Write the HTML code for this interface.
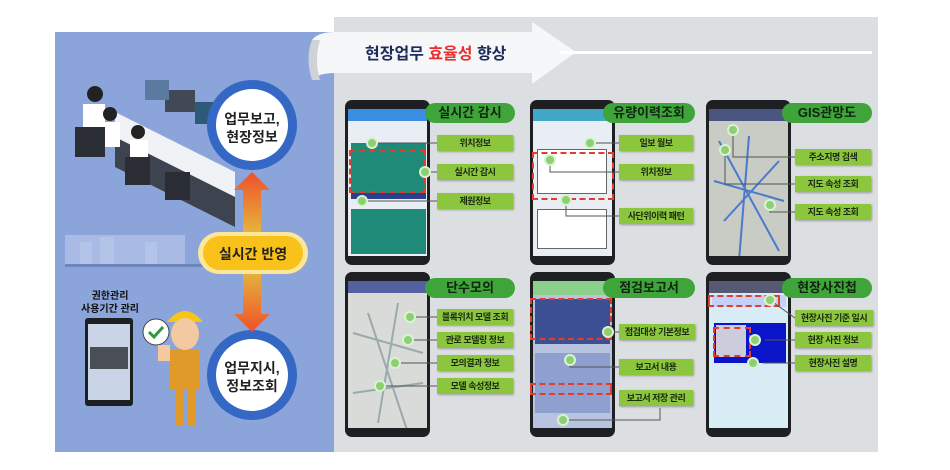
<!DOCTYPE html>
<html><head><meta charset="utf-8">
<style>
*{margin:0;padding:0;box-sizing:border-box}
body{width:950px;height:470px;background:#fff;position:relative;overflow:hidden;font-family:"Liberation Sans","Noto Sans CJK KR",sans-serif}
.a{position:absolute}
.phone{position:absolute;background:#1e1f22;border-radius:7px;padding:9px 3px}
.scr{width:100%;height:100%;background:#e8eef4;position:relative;overflow:hidden}
.bar{height:12px;background:#3a8de0}
.title{position:absolute;background:#3fa53a;border-radius:11px;font-weight:bold;font-size:13px;text-align:center;height:20px;line-height:20px;color:#10240f;white-space:nowrap}
.lab{position:absolute;background:#8cc63e;color:#1b2a10;font-size:9px;font-weight:bold;text-align:center;height:16px;line-height:16px;box-shadow:1px 1px 2px rgba(0,0,0,.3);white-space:nowrap;letter-spacing:-0.5px;overflow:hidden}
.dot{position:absolute;width:12px;height:12px;border-radius:50%;background:#8ccf74;border:2px solid #d9f2cf}
.red{position:absolute;border:2px dashed #e23c2c}
</style></head><body>
<div class="a" style="left:55px;top:32px;width:280px;height:420px;background:#8ba4d9"></div>
<div class="a" style="left:334px;top:17px;width:544px;height:435px;background:#dcdfe1"></div>
<svg class="a" style="left:0;top:0" width="950" height="100">
<path d="M312 40 Q318 32 335 32 L532 32 L532 22 L576 52 L532 84 L532 73 L335 73 Q318 73 312 80 Z" fill="#f6f7f8"/>
<path d="M312 40 Q305 58 312 80 L320 80 Q314 60 320 40 Z" fill="#cfd3d8"/>
<rect x="560" y="51" width="312" height="3" fill="#fff"/>
</svg>
<div class="a" style="left:365px;top:40px;font-size:16px;font-weight:bold;color:#1d2a5a">현장업무 <span style="color:#e8312f">효율성</span> 향상</div>

<svg class="a" style="left:55px;top:32px" width="280" height="420">
<rect x="10" y="203" width="120" height="30" fill="#a9bbe4"/>
<rect x="25" y="210" width="12" height="25" fill="#b4c4e8"/><rect x="45" y="205" width="14" height="30" fill="#b4c4e8"/><rect x="90" y="210" width="12" height="25" fill="#b4c4e8"/>
<rect x="10" y="232" width="140" height="3" fill="#6f86bd"/>
<polygon points="60,80 180,140 180,165 60,105" fill="#f0f2f6"/>
<polygon points="60,105 180,165 180,195 60,135" fill="#3d4450"/>
<rect x="110" y="58" width="30" height="22" fill="#404955"/><rect x="140" y="70" width="28" height="22" fill="#2e5a7a"/><rect x="90" y="48" width="24" height="20" fill="#5a7aa0"/>
<circle cx="40" cy="62" r="8" fill="#222"/><rect x="28" y="72" width="22" height="28" fill="#fff"/>
<circle cx="55" cy="82" r="7" fill="#222"/><rect x="45" y="90" width="20" height="25" fill="#fff"/>
<circle cx="83" cy="100" r="7" fill="#222"/><rect x="75" y="108" width="18" height="22" fill="#fff"/>
<rect x="20" y="95" width="30" height="30" fill="#2a2d33"/><rect x="70" y="125" width="25" height="28" fill="#2a2d33"/><rect x="110" y="140" width="25" height="28" fill="#2a2d33"/>
<circle cx="197" cy="93" r="45" fill="#3567c4"/>
<circle cx="197" cy="93" r="36" fill="#fff"/>
<circle cx="197" cy="343" r="45" fill="#3567c4"/>
<circle cx="197" cy="343" r="36" fill="#fff"/>
<defs><linearGradient id="g1" x1="0" y1="1" x2="0" y2="0"><stop offset="0" stop-color="#e5b33c"/><stop offset="1" stop-color="#f0502a"/></linearGradient>
<linearGradient id="g2" x1="0" y1="0" x2="0" y2="1"><stop offset="0" stop-color="#e5b33c"/><stop offset="1" stop-color="#f0502a"/></linearGradient></defs>
<polygon points="188,200 206,200 206,158 215,158 197,140 179,158 188,158" fill="url(#g1)"/>
<polygon points="188,240 206,240 206,282 215,282 197,300 179,282 188,282" fill="url(#g2)"/>
<rect x="143" y="200" width="110" height="42" rx="21" fill="#fbe79a"/>
<rect x="148" y="204" width="100" height="34" rx="17" fill="#f8c21a"/>
<rect x="30" y="286" width="48" height="88" rx="3" fill="#1e1f22"/><rect x="33" y="292" width="42" height="76" fill="#c9d4e6"/>
<rect x="35" y="315" width="38" height="22" fill="#4a4f55"/>
<circle cx="101" cy="300" r="13" fill="#fff" stroke="#444"/><path d="M94 300 l5 5 l9 -10" stroke="#2a9a3a" stroke-width="3" fill="none"/>
<path d="M112 290 q18 -22 36 0 z" fill="#f5c518"/>
<ellipse cx="130" cy="302" rx="14" ry="16" fill="#f3c9a0"/>
<rect x="115" y="318" width="30" height="40" fill="#e09a2a"/>
<rect x="120" y="356" width="9" height="38" fill="#e09a2a"/><rect x="132" y="356" width="9" height="38" fill="#e09a2a"/>
<rect x="103" y="313" width="12" height="16" fill="#f3c9a0"/>
</svg>
<div class="a" style="left:220px;top:110px;width:64px;text-align:center;font-size:14px;font-weight:bold;line-height:18px;color:#222">업무보고,<br>현장정보</div>
<div class="a" style="left:220px;top:359px;width:64px;text-align:center;font-size:14px;font-weight:bold;line-height:18px;color:#222">업무지시,<br>정보조회</div>
<div class="a" style="left:203px;top:244px;width:100px;text-align:center;font-size:14px;font-weight:bold;color:#222">실시간 반영</div>
<div class="a" style="left:65px;top:290px;width:90px;text-align:center;font-size:10px;font-weight:bold;line-height:13px;color:#111">권한관리<br>사용기간 관리</div>

<div class="phone" style="left:345px;top:100px;width:85px;height:165px"><div class="scr"><div class="bar"></div>
<div class="a" style="left:3px;top:34px;width:75px;height:50px;background:#1f8a78"></div><div class="a" style="left:3px;top:84px;width:75px;height:6px;background:#2b3f8a"></div>
<div class="a" style="left:3px;top:100px;width:75px;height:45px;background:#1f8a78"></div></div></div>
<div class="phone" style="left:530px;top:100px;width:85px;height:165px"><div class="scr"><div class="bar" style="background:#42a8c8"></div>
<div class="a" style="left:4px;top:40px;width:70px;height:45px;border:1px solid #666;background:#fff"></div><div class="a" style="left:4px;top:100px;width:70px;height:40px;border:1px solid #666;background:#fff"></div></div></div>
<div class="phone" style="left:706px;top:100px;width:85px;height:165px"><div class="scr" style="background:#c8ccc4"><div class="bar" style="background:#4a5580"></div>
<svg width="80" height="140"><path d="M10 20 L70 130 M40 15 L30 140 M5 60 L75 80 M15 100 L70 40" stroke="#4a7acc" stroke-width="2" fill="none"/></svg></div></div>
<div class="phone" style="left:345px;top:272px;width:85px;height:165px"><div class="scr" style="background:#d9dbd8"><div class="bar" style="background:#5560a0"></div>
<svg width="80" height="140"><path d="M5 40 L75 60 M20 20 L60 140 M5 100 L75 90 M50 10 L30 130" stroke="#9aa" stroke-width="2" fill="none"/></svg></div></div>
<div class="phone" style="left:530px;top:272px;width:85px;height:165px"><div class="scr" style="background:#b8c3e0"><div class="bar" style="background:#8ad08a;height:14px"></div>
<div class="a" style="left:2px;top:18px;width:75px;height:45px;background:#3c4f92"></div><div class="a" style="left:2px;top:72px;width:75px;height:60px;background:#8fa0d0"></div></div></div>
<div class="phone" style="left:706px;top:272px;width:85px;height:165px"><div class="scr" style="background:#d7ecf5"><div class="bar" style="background:#555a72"></div>
<div class="a" style="left:3px;top:14px;width:74px;height:12px;background:#c4d0f5"></div><div class="a" style="left:5px;top:42px;width:72px;height:40px;background:#0a14c8"></div><div class="a" style="left:7px;top:44px;width:30px;height:32px;background:#ccd"></div></div></div>

<div class="red" style="left:349px;top:150px;width:77px;height:43px"></div>
<div class="red" style="left:532px;top:152px;width:82px;height:48px"></div>
<div class="red" style="left:530px;top:298px;width:82px;height:42px"></div>
<div class="red" style="left:530px;top:383px;width:82px;height:12px"></div>
<div class="red" style="left:708px;top:295px;width:72px;height:12px"></div>
<div class="red" style="left:713px;top:327px;width:38px;height:30px"></div>

<svg class="a" style="left:0;top:0" width="950" height="470">
<g stroke="#555" stroke-width="1" fill="none">
<path d="M372 143 H437 M425 172 H437 M362 201 H437"/>
<path d="M590 143 H619 M550 160 V172 H619 M566 200 V216 H619"/>
<path d="M733 130 V157 H795 M725 150 V184 H795 M770 205 V212 H795"/>
<path d="M410 317 H437 M408 340 H437 M395 363 H437 M380 386 H437"/>
<path d="M608 332 H619 M570 360 V367 H619 M563 420 H660 V408"/>
<path d="M770 300 L795 318 M765 340 H795 M763 363 H795"/>
</g></svg>
<div class="dot" style="left:366px;top:137px"></div><div class="dot" style="left:419px;top:166px"></div><div class="dot" style="left:356px;top:195px"></div>
<div class="dot" style="left:584px;top:137px"></div><div class="dot" style="left:544px;top:154px"></div><div class="dot" style="left:560px;top:194px"></div>
<div class="dot" style="left:727px;top:124px"></div><div class="dot" style="left:719px;top:144px"></div><div class="dot" style="left:764px;top:199px"></div>
<div class="dot" style="left:404px;top:311px"></div><div class="dot" style="left:402px;top:334px"></div><div class="dot" style="left:389px;top:357px"></div><div class="dot" style="left:374px;top:380px"></div>
<div class="dot" style="left:602px;top:326px"></div><div class="dot" style="left:564px;top:354px"></div><div class="dot" style="left:557px;top:414px"></div>
<div class="dot" style="left:764px;top:294px"></div><div class="dot" style="left:749px;top:334px"></div><div class="dot" style="left:747px;top:357px"></div>

<div class="title" style="left:425px;top:103px;width:90px">실시간 감시</div>
<div class="title" style="left:603px;top:103px;width:92px">유량이력조회</div>
<div class="title" style="left:782px;top:103px;width:90px">GIS관망도</div>
<div class="title" style="left:425px;top:278px;width:90px">단수모의</div>
<div class="title" style="left:603px;top:278px;width:92px">점검보고서</div>
<div class="title" style="left:782px;top:278px;width:90px">현장사진첩</div>

<div class="lab" style="left:437px;top:135px;width:76px">위치정보</div>
<div class="lab" style="left:437px;top:164px;width:76px">실시간 감시</div>
<div class="lab" style="left:437px;top:193px;width:76px">제원정보</div>
<div class="lab" style="left:619px;top:135px;width:74px">일보 월보</div>
<div class="lab" style="left:619px;top:164px;width:74px">위치정보</div>
<div class="lab" style="left:619px;top:208px;width:74px">사단위이력 패턴</div>
<div class="lab" style="left:795px;top:149px;width:76px">주소지명 검색</div>
<div class="lab" style="left:795px;top:176px;width:76px">지도 속성 조회</div>
<div class="lab" style="left:795px;top:204px;width:76px">지도 속성 조회</div>
<div class="lab" style="left:437px;top:309px;width:76px">블록위치 모델 조회</div>
<div class="lab" style="left:437px;top:332px;width:76px">관로 모델링 정보</div>
<div class="lab" style="left:437px;top:355px;width:76px">모의결과 정보</div>
<div class="lab" style="left:437px;top:378px;width:76px">모델 속성정보</div>
<div class="lab" style="left:619px;top:324px;width:76px">점검대상 기본정보</div>
<div class="lab" style="left:619px;top:359px;width:74px">보고서 내용</div>
<div class="lab" style="left:619px;top:390px;width:74px">보고서 저장 관리</div>
<div class="lab" style="left:795px;top:310px;width:78px">현장사진 기준 일시</div>
<div class="lab" style="left:795px;top:332px;width:76px">현장 사진 정보</div>
<div class="lab" style="left:795px;top:355px;width:76px">현장사진 설명</div>
</body></html>
